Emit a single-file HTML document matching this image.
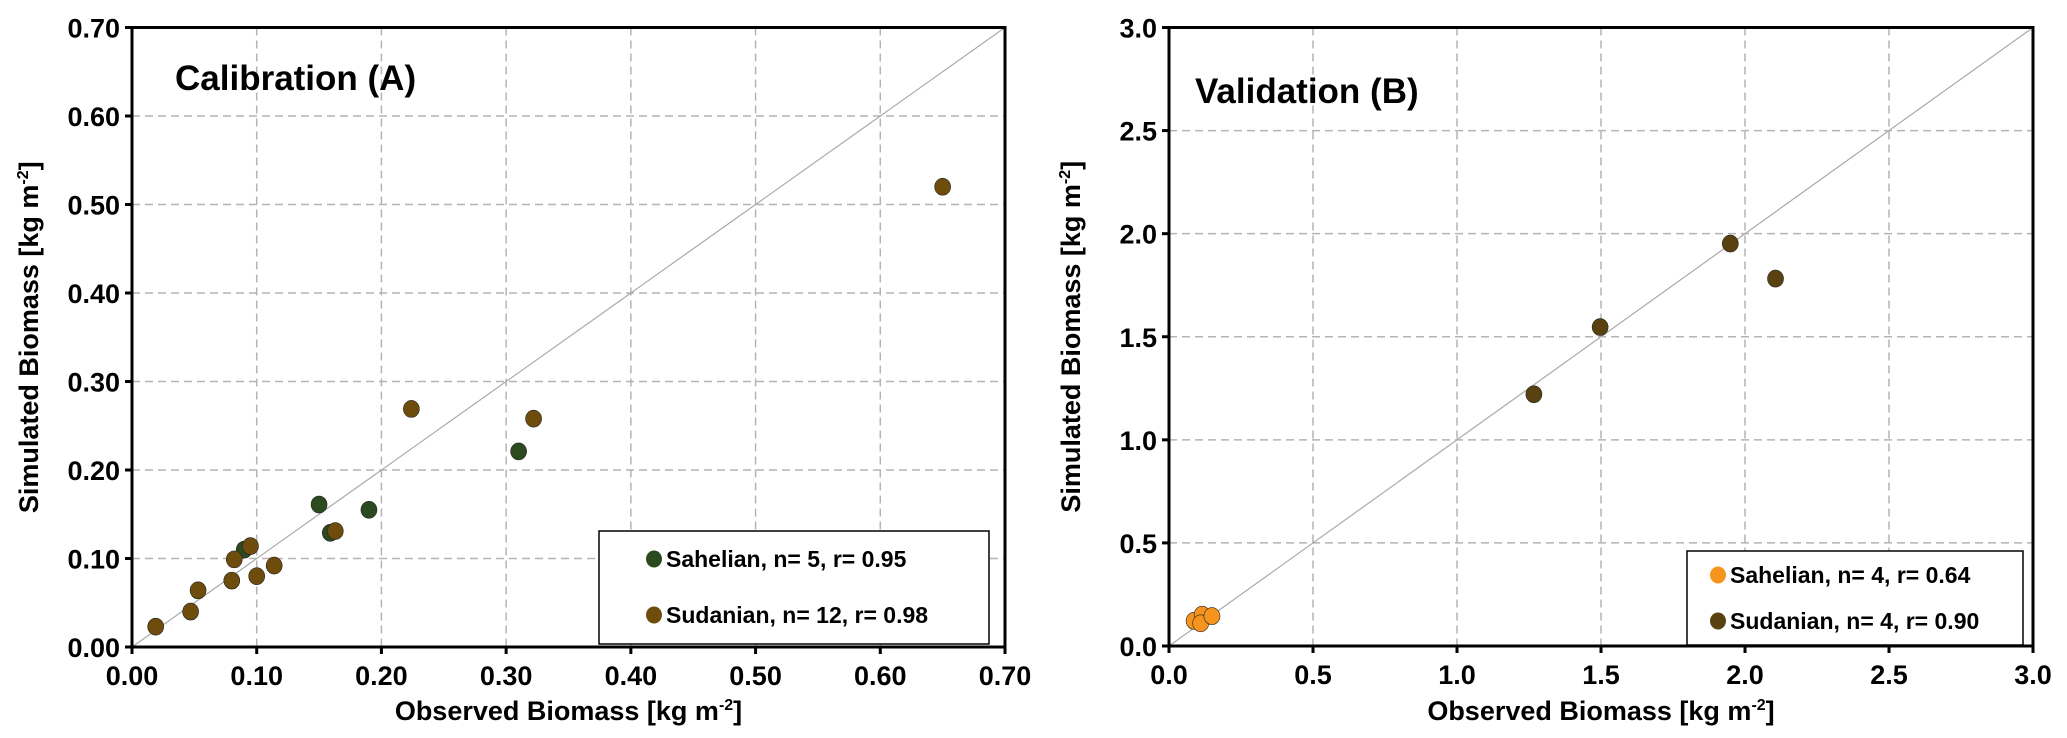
<!DOCTYPE html>
<html><head><meta charset="utf-8"><style>
html,body{margin:0;padding:0;background:#fff;}
svg{display:block;font-family:"Liberation Sans",Arial,sans-serif;}
</style></head><body>
<svg id="chart" width="2067" height="738" viewBox="0 0 2067 738" xmlns="http://www.w3.org/2000/svg"></svg>
<script>
const calibSahelX=[0.150,0.190,0.310,0.159,0.090];
const calibSahelY=[0.161,0.155,0.221,0.129,0.110];
const calibSudanX=[0.019,0.047,0.053,0.080,0.082,0.095,0.100,0.114,0.163,0.224,0.322,0.650];
const calibSudanY=[0.023,0.040,0.064,0.075,0.099,0.114,0.080,0.092,0.131,0.269,0.258,0.520];
const calibTicks=["0.00","0.10","0.20","0.30","0.40","0.50","0.60","0.70"];
const validSudanX=[1.267,1.497,1.949,2.106];
const validSudanY=[1.221,1.547,1.952,1.782];
const validSahelX=[0.087,0.115,0.110,0.149];
const validSahelY=[0.122,0.152,0.110,0.145];
const validTicks=["0.0","0.5","1.0","1.5","2.0","2.5","3.0"];

const NS="http://www.w3.org/2000/svg";
const svg=document.getElementById('chart');
function mk(tag,attrs,parent){const e=document.createElementNS(NS,tag);for(const k in attrs)e.setAttribute(k,attrs[k]);(parent||svg).appendChild(e);return e;}

function panel(o){
  const g=mk('g',{});
  
  
  const sx=v=>o.x0+(v/o.max)*(o.x1-o.x0);
  const sy=v=>o.y1-(v/o.max)*(o.y1-o.y0);
  const n=o.ticks.length;
  for(let i=0;i<n;i++){
    const v=o.max*i/(n-1);
    if(i>0){
      const gl=mk('line',{x1:sx(v),x2:sx(v),y1:o.y0,y2:o.y1,stroke:'#b4b4b4','stroke-width':1.5,'stroke-dasharray':'8,5'},g);
      
      
      const hl=mk('line',{x1:o.x0,x2:o.x1,y1:sy(v),y2:sy(v),stroke:'#b4b4b4','stroke-width':1.5,'stroke-dasharray':'8,5'},g);
      
      
    }
    const yt=mk('text',{x:o.x0-12,y:sy(v)+10,'text-anchor':'end','font-size':27,'font-weight':'bold'},g);
    yt.textContent=o.ticks[i];
    
    
    mk('line',{x1:o.x0-7,x2:o.x0,y1:sy(v),y2:sy(v),stroke:'#000','stroke-width':3},g);
    const xt=mk('text',{x:sx(v),y:o.y1+38,'text-anchor':'middle','font-size':27,'font-weight':'bold'},g);
    xt.textContent=o.ticks[i];
    
    
    mk('line',{x1:sx(v),x2:sx(v),y1:o.y1,y2:o.y1+7,stroke:'#000','stroke-width':3},g);
  }
  const d=mk('line',{x1:sx(0),y1:sy(0),x2:sx(o.max),y2:sy(o.max),stroke:'#aaa','stroke-width':1.2},g);
  
  
  const fr=mk('rect',{x:o.x0,y:o.y0,width:o.x1-o.x0,height:o.y1-o.y0,fill:'none',stroke:'#000','stroke-width':3},g);
  
  
  o.series.forEach(s=>{
    for(let i=0;i<s.xs.length;i++){
      const c=mk('ellipse',{cx:sx(s.xs[i]),cy:sy(s.ys[i]),rx:8,ry:8.5,fill:s.color,stroke:'#222','stroke-width':0.6},g);
      
      
    }
  });
  const t=mk('text',{x:o.titleX,y:o.titleY,'font-size':35,'font-weight':'bold'},g);
  t.textContent=o.title;
  
  
  const lg=mk('g',{},g);
  
  
  mk('rect',{x:o.leg[0],y:o.leg[1],width:o.leg[2],height:o.leg[3],fill:'#fff',stroke:'#000','stroke-width':1.5},lg);
  o.series.forEach((s,i)=>{
    const e=mk('g',{},lg);
    
    
    mk('ellipse',{cx:o.legMx,cy:o.legY[i],rx:8,ry:8.5,fill:s.color},e);
    const tx=mk('text',{x:o.legMx+12,y:o.legY[i]+8,'font-size':23,'font-weight':'bold'},e);
    tx.textContent=s.label;
  });
  const xl=mk('text',{x:(o.x0+o.x1)/2,y:720,'text-anchor':'middle','font-size':27,'font-weight':'bold'},g);
  xl.innerHTML='Observed Biomass [kg m<tspan font-size="16" dy="-10">-2</tspan><tspan dy="10">]</tspan>';
  
  
  const cy=(o.y0+o.y1)/2;
  const yl=mk('text',{x:0,y:0,transform:`translate(${o.ytx},${cy}) rotate(-90)`,'text-anchor':'middle','font-size':27,'font-weight':'bold'},g);
  yl.innerHTML='Simulated Biomass [kg m<tspan font-size="16" dy="-10">-2</tspan><tspan dy="10">]</tspan>';
  
  
}

panel({name:'calibration-panel',x0:132,x1:1005,y0:27.5,y1:647,max:0.7,ticks:calibTicks,
  title:'Calibration (A)',titleX:175,titleY:90,ytx:38,
  leg:[599,531,390,113],legMx:654,legY:[559,615],
  series:[{key:'sahelian',xs:calibSahelX,ys:calibSahelY,color:'#2c4a1f',label:'Sahelian, n= 5, r= 0.95'},
          {key:'sudanian',xs:calibSudanX,ys:calibSudanY,color:'#6e4c0c',label:'Sudanian, n= 12, r= 0.98'}]});
panel({name:'validation-panel',x0:1169,x1:2033,y0:27.5,y1:646,max:3.0,ticks:validTicks,
  title:'Validation (B)',titleX:1195,titleY:103,ytx:1080,
  leg:[1687,551,336,94],legMx:1718,legY:[575,621],
  series:[{key:'sahelian',xs:validSahelX,ys:validSahelY,color:'#f7941d',label:'Sahelian, n= 4, r= 0.64'},
          {key:'sudanian',xs:validSudanX,ys:validSudanY,color:'#5a4210',label:'Sudanian, n= 4, r= 0.90'}]});
</script>
</body></html>
